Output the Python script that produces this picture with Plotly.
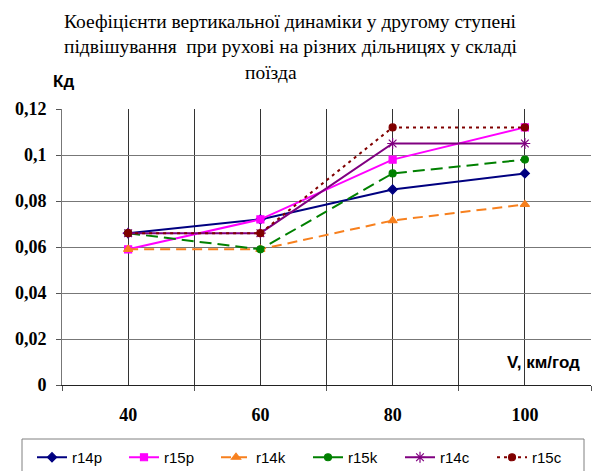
import plotly.graph_objects as go

# Speed categories (km/h) and dynamic coefficients per series
speeds = [40, 60, 80, 100]
r14p = [0.066, 0.072, 0.085, 0.092]
r15p = [0.059, 0.072, 0.098, 0.112]
r14k = [0.059, 0.059, 0.0715, 0.0785]
r15k = [0.066, 0.059, 0.092, 0.098]
r14c = [0.066, 0.066, 0.105, 0.105]
r15c = [0.066, 0.066, 0.112, 0.112]

y_ticks = [0, 0.02, 0.04, 0.06, 0.08, 0.1, 0.12]
y_tick_text = ["<b>0</b>", "<b>0,02</b>", "<b>0,04</b>", "<b>0,06</b>",
               "<b>0,08</b>", "<b>0,1</b>", "<b>0,12</b>"]
x_tick_text = ["<b>40</b>", "<b>60</b>", "<b>80</b>", "<b>100</b>"]

title_lines = [
    "Коефіцієнти вертикальної динаміки у другому ступені",
    "підвішування  при рухові на різних дільницях у складі",
    "поїзда",
]

series = [
    ("r14p", r14p, "#000080", "solid", "diamond", 7),
    ("r15p", r15p, "#FF00FF", "solid", "square", 7),
    ("r14k", r14k, "#F7801E", "10px,6px", "triangle-up", 8),
    ("r15k", r15k, "#008000", "12px,6px", "circle", 7),
    ("r14c", r14c, "#800080", "solid", "asterisk-open", 9),
    ("r15c", r15c, "#800000", "3px,4px", "circle", 7),
]

fig = go.Figure()
for name, vals, color, dash, symbol, size in series:
    fig.add_trace(go.Scatter(
        x=speeds, y=vals, name=name, mode="lines+markers",
        line=dict(color=color, width=2, dash=dash),
        marker=dict(color=color, symbol=symbol, size=size,
                    line=dict(color=color, width=1.2)),
    ))

SERIF = "Times New Roman, Liberation Serif, serif"
SANS = "Arial, Liberation Sans, sans-serif"
axis_font = dict(family=SERIF, size=18, color="#000000")

# plot area: x 62..591 px, y 109..385 px
PL, PR, PT, PB = 62, 591, 109, 385


def px_x(x):
    return (x - PL) / (PR - PL)


def px_y(y):
    return (PB - y) / (PB - PT)


fig.update_layout(
    width=596, height=471,
    margin=dict(l=PL, r=596 - PR, t=PT, b=471 - PB, autoexpand=False),
    paper_bgcolor="white", plot_bgcolor="white",
    showlegend=True,
    legend=dict(
        orientation="h", x=px_x(32), xanchor="left", y=px_y(441), yanchor="top",
        font=dict(family=SANS, size=15, color="#000000"),
        borderwidth=0, bgcolor="rgba(0,0,0,0)",
        entrywidth=47, entrywidthmode="pixels", itemwidth=30, tracegroupgap=0,
    ),
    xaxis=dict(
        range=[30, 110], tickmode="array", tickvals=speeds, ticktext=x_tick_text,
        tickfont=axis_font, ticks="", showgrid=True, gridcolor="#333333", gridwidth=1,
        showline=True, linecolor="#222222", linewidth=1, zeroline=False,
        ticklabelstandoff=13,
        minor=dict(tickmode="array", tickvals=[30, 50, 70, 90, 110], ticks="outside",
                   ticklen=5, tickcolor="#555555", showgrid=True,
                   gridcolor="#333333", gridwidth=1),
    ),
    yaxis=dict(
        range=[0, 0.12], tickmode="array", tickvals=y_ticks, ticktext=y_tick_text,
        tickfont=axis_font, ticks="outside", ticklen=5, tickcolor="#555555",
        showgrid=True, gridcolor="#777777", gridwidth=1,
        showline=True, linecolor="#777777", linewidth=1, zeroline=False,
        ticklabelstandoff=6,
    ),
)

# Legend frame
fig.add_shape(
    type="rect", xref="paper", yref="paper",
    x0=px_x(22), x1=px_x(584), y0=px_y(439), y1=px_y(478),
    line=dict(color="#808080", width=1), fillcolor="rgba(0,0,0,0)", layer="below",
)

# Title lines
for text, cx, cy in zip(title_lines, [290, 291, 271], [22, 47, 72]):
    fig.add_annotation(
        text=text, xref="paper", yref="paper", x=px_x(cx), y=px_y(cy),
        xanchor="center", yanchor="middle", showarrow=False,
        font=dict(family=SERIF, size=19.5, color="#000000"),
    )

# Axis captions
fig.add_annotation(
    text="<b>Кд</b>", xref="paper", yref="paper", x=px_x(63), y=px_y(81),
    xanchor="center", yanchor="middle", showarrow=False,
    font=dict(family=SANS, size=17, color="#000000"),
)
fig.add_annotation(
    text="<b>V, км/год</b>", xref="paper", yref="paper", x=px_x(582),
    y=px_y(362), xanchor="right", yanchor="middle", showarrow=False,
    font=dict(family=SANS, size=17, color="#000000"),
)

fig.write_html("out.html")
